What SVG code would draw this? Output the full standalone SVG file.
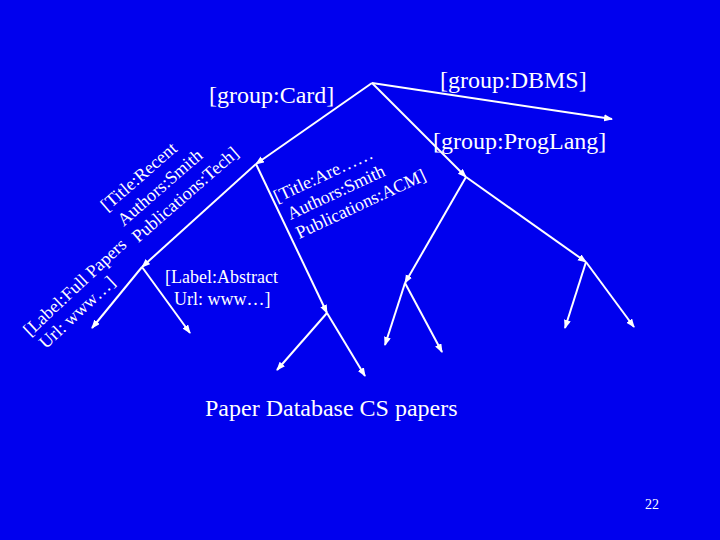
<svg xmlns="http://www.w3.org/2000/svg" width="720" height="540" viewBox="0 0 720 540">
<style>
text{fill:#fff;font-family:"Liberation Serif","Times New Roman",serif}
.big{font-size:24px}
.mid{font-size:18px}
.edge{stroke:#fff;stroke-width:2;fill:none;marker-end:url(#ah)}
</style>
<defs>
<marker id="ah" markerUnits="userSpaceOnUse" markerWidth="9" markerHeight="8" refX="8" refY="3.5" orient="auto">
<path d="M0,0 L9,3.5 L0,7 z" fill="#fff"/>
</marker>
</defs>
<rect width="720" height="540" fill="#0000EE"/>
<g id="connectors">
<line class="edge" x1="372" y1="83" x2="256" y2="164"/>
<line class="edge" x1="372" y1="83" x2="612" y2="119"/>
<line class="edge" x1="372" y1="83" x2="466" y2="177"/>
<line class="edge" x1="256" y1="164" x2="142" y2="267"/>
<line class="edge" x1="256" y1="164" x2="327" y2="313"/>
<line class="edge" x1="142" y1="267" x2="92" y2="328"/>
<line class="edge" x1="142" y1="267" x2="190" y2="333"/>
<line class="edge" x1="327" y1="313" x2="277" y2="370"/>
<line class="edge" x1="327" y1="313" x2="365" y2="376"/>
<line class="edge" x1="466" y1="177" x2="405" y2="283"/>
<line class="edge" x1="466" y1="177" x2="586" y2="262"/>
<line class="edge" x1="405" y1="283" x2="385" y2="345"/>
<line class="edge" x1="405" y1="283" x2="442" y2="352"/>
<line class="edge" x1="586" y1="262" x2="565" y2="328"/>
<line class="edge" x1="586" y1="262" x2="634" y2="327"/>
</g>
<g id="label-card"><text class="big" x="209" y="103">[group:Card]</text></g>
<g id="label-dbms"><text class="big" x="440" y="88">[group:DBMS]</text></g>
<g id="label-proglang"><text class="big" x="433" y="149">[group:ProgLang]</text></g>
<g id="card-record" transform="translate(107,212) rotate(-41)">
<text class="mid" x="0" y="0">[Title:Recent</text>
<text class="mid" x="3" y="22">Authors:Smith</text>
<text class="mid" x="3" y="44">Publications:Tech]</text>
</g>
<g id="fullpaper-record" transform="translate(30,337) rotate(-43)">
<text class="mid" x="0" y="0">[Label:Full Papers</text>
<text class="mid" x="3" y="20">Url: www…]</text>
</g>
<g id="are-record" transform="translate(277,203) rotate(-25)">
<text class="mid" x="0" y="0">[Title:Are……</text>
<text class="mid" x="5" y="21">Authors:Smith</text>
<text class="mid" x="5" y="42">Publications:ACM]</text>
</g>
<g id="abstract-record">
<text class="mid" x="165" y="283" font-size="17">[Label:Abstract</text>
<text class="mid" x="174" y="305" font-size="17">Url: www…]</text>
</g>
<g id="title"><text class="big" x="205" y="416">Paper Database CS papers</text></g>
<g id="page-number"><text x="645" y="509" font-size="14">22</text></g>
</svg>
